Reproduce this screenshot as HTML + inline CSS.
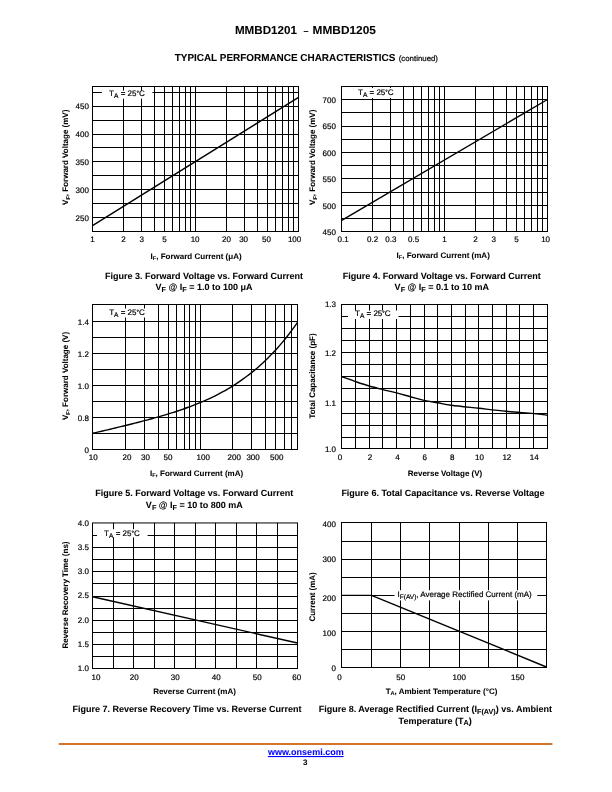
<!DOCTYPE html>
<html lang="en"><head><meta charset="utf-8"><title>MMBD1201 - MMBD1205</title>
<style>html,body{margin:0;padding:0;background:#fff;}body{width:612px;height:792px;overflow:hidden;}svg{display:block;will-change:transform;}a{text-decoration:none;}text{stroke:#000;stroke-width:0.2px;}text[font-weight=bold]{stroke-width:0.06px;}</style>
</head><body>
<svg width="612" height="792" viewBox="0 0 612 792" font-family='"Liberation Sans", Arial, Helvetica, sans-serif' text-rendering="geometricPrecision">
<rect width="612" height="792" fill="#fff"/>
<text x="234.9" y="33.8" font-size="11.6" text-anchor="start" font-weight="bold" fill="#000" textLength="62" lengthAdjust="spacingAndGlyphs">MMBD1201</text>
<text x="306.05" y="33.8" font-size="9" text-anchor="middle" font-weight="bold" fill="#000">&#8211;</text>
<text x="312.6" y="33.8" font-size="11.6" text-anchor="start" font-weight="bold" fill="#000" textLength="63.3" lengthAdjust="spacingAndGlyphs">MMBD1205</text>
<text x="174.7" y="61" font-size="10.1" font-weight="bold" textLength="220.6" lengthAdjust="spacingAndGlyphs">TYPICAL PERFORMANCE CHARACTERISTICS</text>
<text x="398.7" y="61" font-size="7.7" textLength="39.3" lengthAdjust="spacingAndGlyphs">(continued)</text>
<g>
<line x1="123.5" y1="86.5" x2="123.5" y2="231.5" stroke="#000" stroke-width="1.0"/>
<line x1="141.5" y1="86.5" x2="141.5" y2="231.5" stroke="#000" stroke-width="1.0"/>
<line x1="154.5" y1="86.5" x2="154.5" y2="231.5" stroke="#000" stroke-width="1.0"/>
<line x1="164.5" y1="86.5" x2="164.5" y2="231.5" stroke="#000" stroke-width="1.0"/>
<line x1="172.5" y1="86.5" x2="172.5" y2="231.5" stroke="#000" stroke-width="1.0"/>
<line x1="179.5" y1="86.5" x2="179.5" y2="231.5" stroke="#000" stroke-width="1.0"/>
<line x1="185.5" y1="86.5" x2="185.5" y2="231.5" stroke="#000" stroke-width="1.0"/>
<line x1="190.5" y1="86.5" x2="190.5" y2="231.5" stroke="#000" stroke-width="1.0"/>
<line x1="195.5" y1="86.5" x2="195.5" y2="231.5" stroke="#000" stroke-width="1.0"/>
<line x1="226.5" y1="86.5" x2="226.5" y2="231.5" stroke="#000" stroke-width="1.0"/>
<line x1="244.5" y1="86.5" x2="244.5" y2="231.5" stroke="#000" stroke-width="1.0"/>
<line x1="257.5" y1="86.5" x2="257.5" y2="231.5" stroke="#000" stroke-width="1.0"/>
<line x1="267.5" y1="86.5" x2="267.5" y2="231.5" stroke="#000" stroke-width="1.0"/>
<line x1="275.5" y1="86.5" x2="275.5" y2="231.5" stroke="#000" stroke-width="1.0"/>
<line x1="282.5" y1="86.5" x2="282.5" y2="231.5" stroke="#000" stroke-width="1.0"/>
<line x1="288.5" y1="86.5" x2="288.5" y2="231.5" stroke="#000" stroke-width="1.0"/>
<line x1="293.5" y1="86.5" x2="293.5" y2="231.5" stroke="#000" stroke-width="1.0"/>
<line x1="92.5" y1="92.5" x2="298.5" y2="92.5" stroke="#000" stroke-width="1.0"/>
<line x1="92.5" y1="106.5" x2="298.5" y2="106.5" stroke="#000" stroke-width="1.0"/>
<line x1="92.5" y1="120.5" x2="298.5" y2="120.5" stroke="#000" stroke-width="1.0"/>
<line x1="92.5" y1="134.5" x2="298.5" y2="134.5" stroke="#000" stroke-width="1.0"/>
<line x1="92.5" y1="147.5" x2="298.5" y2="147.5" stroke="#000" stroke-width="1.0"/>
<line x1="92.5" y1="161.5" x2="298.5" y2="161.5" stroke="#000" stroke-width="1.0"/>
<line x1="92.5" y1="175.5" x2="298.5" y2="175.5" stroke="#000" stroke-width="1.0"/>
<line x1="92.5" y1="189.5" x2="298.5" y2="189.5" stroke="#000" stroke-width="1.0"/>
<line x1="92.5" y1="203.5" x2="298.5" y2="203.5" stroke="#000" stroke-width="1.0"/>
<line x1="92.5" y1="217.5" x2="298.5" y2="217.5" stroke="#000" stroke-width="1.0"/>
<rect x="101.9" y="90.6" width="50.5" height="8.1" fill="#fff"/>
<rect x="92.5" y="86.5" width="206" height="145" fill="none" stroke="#000" stroke-width="1.0"/>
<path d="M92.5,225.6 L298.5,97.4" fill="none" stroke="#000" stroke-width="1.4" stroke-linejoin="round"/>
<text x="92.5" y="241.9" font-size="8.0" text-anchor="middle" fill="#000">1</text>
<text x="123.51" y="241.9" font-size="8.0" text-anchor="middle" fill="#000">2</text>
<text x="141.64" y="241.9" font-size="8.0" text-anchor="middle" fill="#000">3</text>
<text x="164.49" y="241.9" font-size="8.0" text-anchor="middle" fill="#000">5</text>
<text x="195.1" y="241.9" font-size="8.0" text-anchor="middle" fill="#000">10</text>
<text x="226.51" y="241.9" font-size="8.0" text-anchor="middle" fill="#000">20</text>
<text x="243.64" y="241.9" font-size="8.0" text-anchor="middle" fill="#000">30</text>
<text x="266.49" y="241.9" font-size="8.0" text-anchor="middle" fill="#000">50</text>
<text x="294.6" y="241.9" font-size="8.0" text-anchor="middle" fill="#000">100</text>
<text x="88.9" y="220.9" font-size="8.0" text-anchor="end" fill="#000">250</text>
<text x="88.9" y="192.9" font-size="8.0" text-anchor="end" fill="#000">300</text>
<text x="88.9" y="164.9" font-size="8.0" text-anchor="end" fill="#000">350</text>
<text x="88.9" y="136.9" font-size="8.0" text-anchor="end" fill="#000">400</text>
<text x="88.9" y="108.9" font-size="8.0" text-anchor="end" fill="#000">450</text>
<text x="196.1" y="258.8" font-size="8.0" text-anchor="middle" font-weight="bold" fill="#000">I<tspan dy="1.4" font-size="5.6">F</tspan><tspan dy="-1.4">, Forward Current (&#956;A)</tspan></text>
<text transform="translate(68.4,157.3) rotate(-90)" font-size="8.0" text-anchor="middle" font-weight="bold">V<tspan dy="1.4" font-size="5.6">F</tspan><tspan dy="-1.4">, Forward Voltage (mV)</tspan></text>
<text x="126.9" y="95.8" font-size="8.0" text-anchor="middle" fill="#000">T<tspan dy="2.0" font-size="6.6">A</tspan><tspan dy="-2.0"> = 25</tspan><tspan font-size="6.2" dy="-0.9">&#176;</tspan><tspan dy="0.9">C</tspan></text>
</g>
<g>
<line x1="372.5" y1="86.5" x2="372.5" y2="231.5" stroke="#000" stroke-width="1.0"/>
<line x1="390.5" y1="86.5" x2="390.5" y2="231.5" stroke="#000" stroke-width="1.0"/>
<line x1="403.5" y1="86.5" x2="403.5" y2="231.5" stroke="#000" stroke-width="1.0"/>
<line x1="413.5" y1="86.5" x2="413.5" y2="231.5" stroke="#000" stroke-width="1.0"/>
<line x1="421.5" y1="86.5" x2="421.5" y2="231.5" stroke="#000" stroke-width="1.0"/>
<line x1="428.5" y1="86.5" x2="428.5" y2="231.5" stroke="#000" stroke-width="1.0"/>
<line x1="434.5" y1="86.5" x2="434.5" y2="231.5" stroke="#000" stroke-width="1.0"/>
<line x1="439.5" y1="86.5" x2="439.5" y2="231.5" stroke="#000" stroke-width="1.0"/>
<line x1="444.5" y1="86.5" x2="444.5" y2="231.5" stroke="#000" stroke-width="1.0"/>
<line x1="475.5" y1="86.5" x2="475.5" y2="231.5" stroke="#000" stroke-width="1.0"/>
<line x1="493.5" y1="86.5" x2="493.5" y2="231.5" stroke="#000" stroke-width="1.0"/>
<line x1="506.5" y1="86.5" x2="506.5" y2="231.5" stroke="#000" stroke-width="1.0"/>
<line x1="516.5" y1="86.5" x2="516.5" y2="231.5" stroke="#000" stroke-width="1.0"/>
<line x1="524.5" y1="86.5" x2="524.5" y2="231.5" stroke="#000" stroke-width="1.0"/>
<line x1="531.5" y1="86.5" x2="531.5" y2="231.5" stroke="#000" stroke-width="1.0"/>
<line x1="537.5" y1="86.5" x2="537.5" y2="231.5" stroke="#000" stroke-width="1.0"/>
<line x1="542.5" y1="86.5" x2="542.5" y2="231.5" stroke="#000" stroke-width="1.0"/>
<line x1="341.5" y1="99.5" x2="547.5" y2="99.5" stroke="#000" stroke-width="1.0"/>
<line x1="341.5" y1="112.5" x2="547.5" y2="112.5" stroke="#000" stroke-width="1.0"/>
<line x1="341.5" y1="126.5" x2="547.5" y2="126.5" stroke="#000" stroke-width="1.0"/>
<line x1="341.5" y1="139.5" x2="547.5" y2="139.5" stroke="#000" stroke-width="1.0"/>
<line x1="341.5" y1="152.5" x2="547.5" y2="152.5" stroke="#000" stroke-width="1.0"/>
<line x1="341.5" y1="165.5" x2="547.5" y2="165.5" stroke="#000" stroke-width="1.0"/>
<line x1="341.5" y1="178.5" x2="547.5" y2="178.5" stroke="#000" stroke-width="1.0"/>
<line x1="341.5" y1="192.5" x2="547.5" y2="192.5" stroke="#000" stroke-width="1.0"/>
<line x1="341.5" y1="205.5" x2="547.5" y2="205.5" stroke="#000" stroke-width="1.0"/>
<line x1="341.5" y1="218.5" x2="547.5" y2="218.5" stroke="#000" stroke-width="1.0"/>
<rect x="351" y="87.9" width="49.5" height="10.1" fill="#fff"/>
<rect x="341.5" y="86.5" width="206" height="145" fill="none" stroke="#000" stroke-width="1.0"/>
<path d="M341.7,220.3 L547.5,99.5" fill="none" stroke="#000" stroke-width="1.4" stroke-linejoin="round"/>
<text x="343.1" y="241.6" font-size="8.0" text-anchor="middle" fill="#000">0.1</text>
<text x="372.68" y="241.6" font-size="8.0" text-anchor="middle" fill="#000">0.2</text>
<text x="390.8" y="241.6" font-size="8.0" text-anchor="middle" fill="#000">0.3</text>
<text x="413.62" y="241.6" font-size="8.0" text-anchor="middle" fill="#000">0.5</text>
<text x="444.6" y="241.6" font-size="8.0" text-anchor="middle" fill="#000">1</text>
<text x="475.58" y="241.6" font-size="8.0" text-anchor="middle" fill="#000">2</text>
<text x="493.7" y="241.6" font-size="8.0" text-anchor="middle" fill="#000">3</text>
<text x="516.52" y="241.6" font-size="8.0" text-anchor="middle" fill="#000">5</text>
<text x="545.6" y="241.6" font-size="8.0" text-anchor="middle" fill="#000">10</text>
<text x="335.9" y="235" font-size="8.0" text-anchor="end" fill="#000">450</text>
<text x="335.9" y="208.59" font-size="8.0" text-anchor="end" fill="#000">500</text>
<text x="335.9" y="182.18" font-size="8.0" text-anchor="end" fill="#000">550</text>
<text x="335.9" y="155.77" font-size="8.0" text-anchor="end" fill="#000">600</text>
<text x="335.9" y="129.36" font-size="8.0" text-anchor="end" fill="#000">650</text>
<text x="335.9" y="102.95" font-size="8.0" text-anchor="end" fill="#000">700</text>
<text x="443.2" y="257.6" font-size="8.0" text-anchor="middle" font-weight="bold" fill="#000">I<tspan dy="1.4" font-size="5.6">F</tspan><tspan dy="-1.4">, Forward Current (mA)</tspan></text>
<text transform="translate(315.2,157.3) rotate(-90)" font-size="8.0" text-anchor="middle" font-weight="bold">V<tspan dy="1.4" font-size="5.6">F</tspan><tspan dy="-1.4">, Forward Voltage (mV)</tspan></text>
<text x="375.8" y="94.7" font-size="8.0" text-anchor="middle" fill="#000">T<tspan dy="2.0" font-size="6.6">A</tspan><tspan dy="-2.0"> = 25</tspan><tspan font-size="6.2" dy="-0.9">&#176;</tspan><tspan dy="0.9">C</tspan></text>
</g>
<g>
<line x1="125.5" y1="304.5" x2="125.5" y2="449.5" stroke="#000" stroke-width="1.0"/>
<line x1="144.5" y1="304.5" x2="144.5" y2="449.5" stroke="#000" stroke-width="1.0"/>
<line x1="158.5" y1="304.5" x2="158.5" y2="449.5" stroke="#000" stroke-width="1.0"/>
<line x1="168.5" y1="304.5" x2="168.5" y2="449.5" stroke="#000" stroke-width="1.0"/>
<line x1="176.5" y1="304.5" x2="176.5" y2="449.5" stroke="#000" stroke-width="1.0"/>
<line x1="184.5" y1="304.5" x2="184.5" y2="449.5" stroke="#000" stroke-width="1.0"/>
<line x1="189.5" y1="304.5" x2="189.5" y2="449.5" stroke="#000" stroke-width="1.0"/>
<line x1="195.5" y1="304.5" x2="195.5" y2="449.5" stroke="#000" stroke-width="1.0"/>
<line x1="200.5" y1="304.5" x2="200.5" y2="449.5" stroke="#000" stroke-width="1.0"/>
<line x1="232.5" y1="304.5" x2="232.5" y2="449.5" stroke="#000" stroke-width="1.0"/>
<line x1="251.5" y1="304.5" x2="251.5" y2="449.5" stroke="#000" stroke-width="1.0"/>
<line x1="265.5" y1="304.5" x2="265.5" y2="449.5" stroke="#000" stroke-width="1.0"/>
<line x1="275.5" y1="304.5" x2="275.5" y2="449.5" stroke="#000" stroke-width="1.0"/>
<line x1="284.5" y1="304.5" x2="284.5" y2="449.5" stroke="#000" stroke-width="1.0"/>
<line x1="291.5" y1="304.5" x2="291.5" y2="449.5" stroke="#000" stroke-width="1.0"/>
<line x1="92.5" y1="433.5" x2="297.5" y2="433.5" stroke="#000" stroke-width="1.0"/>
<line x1="92.5" y1="417.5" x2="297.5" y2="417.5" stroke="#000" stroke-width="1.0"/>
<line x1="92.5" y1="401.5" x2="297.5" y2="401.5" stroke="#000" stroke-width="1.0"/>
<line x1="92.5" y1="385.5" x2="297.5" y2="385.5" stroke="#000" stroke-width="1.0"/>
<line x1="92.5" y1="369.5" x2="297.5" y2="369.5" stroke="#000" stroke-width="1.0"/>
<line x1="92.5" y1="353.5" x2="297.5" y2="353.5" stroke="#000" stroke-width="1.0"/>
<line x1="92.5" y1="337.5" x2="297.5" y2="337.5" stroke="#000" stroke-width="1.0"/>
<line x1="92.5" y1="321.5" x2="297.5" y2="321.5" stroke="#000" stroke-width="1.0"/>
<rect x="102" y="308.5" width="50" height="9" fill="#fff"/>
<rect x="92.5" y="304.5" width="205" height="145" fill="none" stroke="#000" stroke-width="1.0"/>
<path d="M92.6,433.3 C93.43,433.11 95.93,432.54 97.6,432.16 C99.26,431.77 100.93,431.39 102.6,431 C104.26,430.61 105.93,430.22 107.59,429.83 C109.26,429.43 110.92,429.04 112.59,428.64 C114.26,428.24 115.92,427.84 117.59,427.44 C119.25,427.04 120.92,426.63 122.59,426.23 C124.25,425.82 125.92,425.41 127.58,424.99 C129.25,424.58 130.91,424.17 132.58,423.74 C134.25,423.32 135.91,422.9 137.58,422.47 C139.24,422.05 140.91,421.61 142.58,421.18 C144.24,420.74 145.91,420.3 147.57,419.85 C149.24,419.4 150.9,418.95 152.57,418.49 C154.24,418.03 155.9,417.57 157.57,417.09 C159.23,416.62 160.9,416.14 162.57,415.65 C164.23,415.16 165.9,414.66 167.56,414.16 C169.23,413.65 170.9,413.13 172.56,412.6 C174.23,412.08 175.89,411.54 177.56,410.99 C179.22,410.43 180.89,409.87 182.56,409.29 C184.22,408.72 185.89,408.13 187.55,407.52 C189.22,406.91 190.89,406.29 192.55,405.65 C194.22,405.01 195.88,404.36 197.55,403.68 C199.21,403.01 200.88,402.32 202.55,401.6 C204.21,400.89 205.88,400.15 207.54,399.4 C209.21,398.64 210.88,397.86 212.54,397.06 C214.21,396.25 215.87,395.43 217.54,394.57 C219.2,393.71 220.87,392.83 222.54,391.92 C224.2,391.01 225.87,390.07 227.53,389.1 C229.2,388.13 230.87,387.13 232.53,386.09 C234.2,385.05 235.86,383.98 237.53,382.88 C239.2,381.77 240.86,380.63 242.53,379.44 C244.19,378.26 245.86,377.04 247.52,375.78 C249.19,374.52 250.86,373.21 252.52,371.86 C254.19,370.51 255.85,369.12 257.52,367.68 C259.19,366.24 260.85,364.75 262.52,363.22 C264.18,361.68 265.85,360.09 267.51,358.45 C269.18,356.8 270.85,355.11 272.51,353.35 C274.18,351.6 275.84,349.79 277.51,347.92 C279.18,346.05 280.84,344.12 282.51,342.13 C284.17,340.13 285.84,338.08 287.5,335.95 C289.17,333.83 290.84,331.64 292.5,329.37 C294.17,327.11 296.67,323.54 297.5,322.37" fill="none" stroke="#000" stroke-width="1.4" stroke-linejoin="round"/>
<text x="93.3" y="460.4" font-size="8.0" text-anchor="middle" fill="#000">10</text>
<text x="127" y="460.4" font-size="8.0" text-anchor="middle" fill="#000">20</text>
<text x="145.4" y="460.4" font-size="8.0" text-anchor="middle" fill="#000">30</text>
<text x="167.9" y="460.4" font-size="8.0" text-anchor="middle" fill="#000">50</text>
<text x="203.2" y="460.4" font-size="8.0" text-anchor="middle" fill="#000">100</text>
<text x="234.3" y="460.4" font-size="8.0" text-anchor="middle" fill="#000">200</text>
<text x="253.1" y="460.4" font-size="8.0" text-anchor="middle" fill="#000">300</text>
<text x="276.7" y="460.4" font-size="8.0" text-anchor="middle" fill="#000">500</text>
<text x="88.9" y="452.6" font-size="8.0" text-anchor="end" fill="#000">0</text>
<text x="88.9" y="420.7" font-size="8.0" text-anchor="end" fill="#000">0.8</text>
<text x="88.9" y="388.7" font-size="8.0" text-anchor="end" fill="#000">1.0</text>
<text x="88.9" y="356.7" font-size="8.0" text-anchor="end" fill="#000">1.2</text>
<text x="88.9" y="324.7" font-size="8.0" text-anchor="end" fill="#000">1.4</text>
<text x="196.5" y="476" font-size="8.0" text-anchor="middle" font-weight="bold" fill="#000">I<tspan dy="1.4" font-size="5.6">F</tspan><tspan dy="-1.4">, Forward Current (mA)</tspan></text>
<text transform="translate(68.4,376) rotate(-90)" font-size="8.0" text-anchor="middle" font-weight="bold">V<tspan dy="1.4" font-size="5.6">F</tspan><tspan dy="-1.4">, Forward Voltage (V)</tspan></text>
<text x="127" y="315" font-size="8.0" text-anchor="middle" fill="#000">T<tspan dy="2.0" font-size="6.6">A</tspan><tspan dy="-2.0"> = 25</tspan><tspan font-size="6.2" dy="-0.9">&#176;</tspan><tspan dy="0.9">C</tspan></text>
</g>
<g>
<line x1="355.5" y1="304.5" x2="355.5" y2="448.5" stroke="#000" stroke-width="1.0"/>
<line x1="369.5" y1="304.5" x2="369.5" y2="448.5" stroke="#000" stroke-width="1.0"/>
<line x1="382.5" y1="304.5" x2="382.5" y2="448.5" stroke="#000" stroke-width="1.0"/>
<line x1="396.5" y1="304.5" x2="396.5" y2="448.5" stroke="#000" stroke-width="1.0"/>
<line x1="410.5" y1="304.5" x2="410.5" y2="448.5" stroke="#000" stroke-width="1.0"/>
<line x1="424.5" y1="304.5" x2="424.5" y2="448.5" stroke="#000" stroke-width="1.0"/>
<line x1="437.5" y1="304.5" x2="437.5" y2="448.5" stroke="#000" stroke-width="1.0"/>
<line x1="451.5" y1="304.5" x2="451.5" y2="448.5" stroke="#000" stroke-width="1.0"/>
<line x1="465.5" y1="304.5" x2="465.5" y2="448.5" stroke="#000" stroke-width="1.0"/>
<line x1="478.5" y1="304.5" x2="478.5" y2="448.5" stroke="#000" stroke-width="1.0"/>
<line x1="492.5" y1="304.5" x2="492.5" y2="448.5" stroke="#000" stroke-width="1.0"/>
<line x1="506.5" y1="304.5" x2="506.5" y2="448.5" stroke="#000" stroke-width="1.0"/>
<line x1="519.5" y1="304.5" x2="519.5" y2="448.5" stroke="#000" stroke-width="1.0"/>
<line x1="533.5" y1="304.5" x2="533.5" y2="448.5" stroke="#000" stroke-width="1.0"/>
<line x1="341.5" y1="316.5" x2="547.5" y2="316.5" stroke="#000" stroke-width="1.0"/>
<line x1="341.5" y1="328.5" x2="547.5" y2="328.5" stroke="#000" stroke-width="1.0"/>
<line x1="341.5" y1="340.5" x2="547.5" y2="340.5" stroke="#000" stroke-width="1.0"/>
<line x1="341.5" y1="352.5" x2="547.5" y2="352.5" stroke="#000" stroke-width="1.0"/>
<line x1="341.5" y1="364.5" x2="547.5" y2="364.5" stroke="#000" stroke-width="1.0"/>
<line x1="341.5" y1="376.5" x2="547.5" y2="376.5" stroke="#000" stroke-width="1.0"/>
<line x1="341.5" y1="388.5" x2="547.5" y2="388.5" stroke="#000" stroke-width="1.0"/>
<line x1="341.5" y1="401.5" x2="547.5" y2="401.5" stroke="#000" stroke-width="1.0"/>
<line x1="341.5" y1="413.5" x2="547.5" y2="413.5" stroke="#000" stroke-width="1.0"/>
<line x1="341.5" y1="425.5" x2="547.5" y2="425.5" stroke="#000" stroke-width="1.0"/>
<line x1="341.5" y1="437.5" x2="547.5" y2="437.5" stroke="#000" stroke-width="1.0"/>
<rect x="348" y="310.5" width="50.5" height="8.5" fill="#fff"/>
<rect x="341.5" y="304.5" width="206" height="144" fill="none" stroke="#000" stroke-width="1.0"/>
<path d="M341.91,376.8 C344.19,377.6 351.04,380.07 355.6,381.6 C360.16,383.13 364.73,384.67 369.29,386 C373.85,387.33 378.42,388.45 382.98,389.6 C387.54,390.75 392.11,391.72 396.67,392.9 C401.23,394.08 405.8,395.45 410.36,396.7 C414.92,397.95 419.49,399.38 424.05,400.4 C428.61,401.42 433.18,402 437.74,402.8 C442.3,403.6 444.59,404.28 451.43,405.2 C458.27,406.12 469.68,407.28 478.81,408.3 C487.94,409.32 497.06,410.42 506.19,411.3 C515.32,412.18 526.73,412.95 533.57,413.6 C540.42,414.25 544.98,414.93 547.26,415.2" fill="none" stroke="#000" stroke-width="1.4" stroke-linejoin="round"/>
<text x="340" y="459.9" font-size="8.0" text-anchor="middle" fill="#000">0</text>
<text x="369.99" y="459.9" font-size="8.0" text-anchor="middle" fill="#000">2</text>
<text x="397.37" y="459.9" font-size="8.0" text-anchor="middle" fill="#000">4</text>
<text x="424.75" y="459.9" font-size="8.0" text-anchor="middle" fill="#000">6</text>
<text x="452.13" y="459.9" font-size="8.0" text-anchor="middle" fill="#000">8</text>
<text x="479.51" y="459.9" font-size="8.0" text-anchor="middle" fill="#000">10</text>
<text x="506.89" y="459.9" font-size="8.0" text-anchor="middle" fill="#000">12</text>
<text x="534.27" y="459.9" font-size="8.0" text-anchor="middle" fill="#000">14</text>
<text x="336" y="451.9" font-size="8.0" text-anchor="end" fill="#000">1.0</text>
<text x="336" y="406.3" font-size="8.0" text-anchor="end" fill="#000">1.1</text>
<text x="336" y="355.9" font-size="8.0" text-anchor="end" fill="#000">1.2</text>
<text x="336" y="306.7" font-size="8.0" text-anchor="end" fill="#000">1.3</text>
<text x="445" y="476" font-size="8.0" text-anchor="middle" font-weight="bold" fill="#000">Reverse Voltage (V)</text>
<text transform="translate(315.2,376) rotate(-90)" font-size="8.0" text-anchor="middle" font-weight="bold">Total Capacitance (pF)</text>
<text x="372.8" y="315.7" font-size="8.0" text-anchor="middle" fill="#000">T<tspan dy="2.0" font-size="6.6">A</tspan><tspan dy="-2.0"> = 25</tspan><tspan font-size="6.2" dy="-0.9">&#176;</tspan><tspan dy="0.9">C</tspan></text>
</g>
<g>
<line x1="113.5" y1="522.95" x2="113.5" y2="668.5" stroke="#000" stroke-width="1.0"/>
<line x1="133.5" y1="522.95" x2="133.5" y2="668.5" stroke="#000" stroke-width="1.0"/>
<line x1="154.5" y1="522.95" x2="154.5" y2="668.5" stroke="#000" stroke-width="1.0"/>
<line x1="174.5" y1="522.95" x2="174.5" y2="668.5" stroke="#000" stroke-width="1.0"/>
<line x1="195.5" y1="522.95" x2="195.5" y2="668.5" stroke="#000" stroke-width="1.0"/>
<line x1="215.5" y1="522.95" x2="215.5" y2="668.5" stroke="#000" stroke-width="1.0"/>
<line x1="236.5" y1="522.95" x2="236.5" y2="668.5" stroke="#000" stroke-width="1.0"/>
<line x1="256.5" y1="522.95" x2="256.5" y2="668.5" stroke="#000" stroke-width="1.0"/>
<line x1="277.5" y1="522.95" x2="277.5" y2="668.5" stroke="#000" stroke-width="1.0"/>
<line x1="92.5" y1="535.5" x2="297.5" y2="535.5" stroke="#000" stroke-width="1.0"/>
<line x1="92.5" y1="547.5" x2="297.5" y2="547.5" stroke="#000" stroke-width="1.0"/>
<line x1="92.5" y1="559.5" x2="297.5" y2="559.5" stroke="#000" stroke-width="1.0"/>
<line x1="92.5" y1="571.5" x2="297.5" y2="571.5" stroke="#000" stroke-width="1.0"/>
<line x1="92.5" y1="583.5" x2="297.5" y2="583.5" stroke="#000" stroke-width="1.0"/>
<line x1="92.5" y1="596.5" x2="297.5" y2="596.5" stroke="#000" stroke-width="1.0"/>
<line x1="92.5" y1="608.5" x2="297.5" y2="608.5" stroke="#000" stroke-width="1.0"/>
<line x1="92.5" y1="620.5" x2="297.5" y2="620.5" stroke="#000" stroke-width="1.0"/>
<line x1="92.5" y1="632.5" x2="297.5" y2="632.5" stroke="#000" stroke-width="1.0"/>
<line x1="92.5" y1="644.5" x2="297.5" y2="644.5" stroke="#000" stroke-width="1.0"/>
<line x1="92.5" y1="656.5" x2="297.5" y2="656.5" stroke="#000" stroke-width="1.0"/>
<rect x="97" y="529.2" width="50.6" height="8.2" fill="#fff"/>
<rect x="92.5" y="522.95" width="205" height="145.55" fill="none" stroke="#000" stroke-width="1.0"/>
<path d="M92.6,596.7 L297.5,643" fill="none" stroke="#000" stroke-width="1.4" stroke-linejoin="round"/>
<text x="95.9" y="679.7" font-size="8.0" text-anchor="middle" fill="#000">10</text>
<text x="134.3" y="679.7" font-size="8.0" text-anchor="middle" fill="#000">20</text>
<text x="175.3" y="679.7" font-size="8.0" text-anchor="middle" fill="#000">30</text>
<text x="216.3" y="679.7" font-size="8.0" text-anchor="middle" fill="#000">40</text>
<text x="257.3" y="679.7" font-size="8.0" text-anchor="middle" fill="#000">50</text>
<text x="296.7" y="679.7" font-size="8.0" text-anchor="middle" fill="#000">60</text>
<text x="88.9" y="671" font-size="8.0" text-anchor="end" fill="#000">1.0</text>
<text x="88.9" y="646.77" font-size="8.0" text-anchor="end" fill="#000">1.5</text>
<text x="88.9" y="622.54" font-size="8.0" text-anchor="end" fill="#000">2.0</text>
<text x="88.9" y="598.31" font-size="8.0" text-anchor="end" fill="#000">2.5</text>
<text x="88.9" y="574.08" font-size="8.0" text-anchor="end" fill="#000">3.0</text>
<text x="88.9" y="549.85" font-size="8.0" text-anchor="end" fill="#000">3.5</text>
<text x="88.9" y="525.62" font-size="8.0" text-anchor="end" fill="#000">4.0</text>
<text x="194.5" y="693.8" font-size="8.0" text-anchor="middle" font-weight="bold" fill="#000">Reverse Current (mA)</text>
<text transform="translate(68.4,595) rotate(-90)" font-size="8.0" text-anchor="middle" font-weight="bold">Reverse Recovery Time (ns)</text>
<text x="121.9" y="535.8" font-size="8.0" text-anchor="middle" fill="#000">T<tspan dy="2.0" font-size="6.6">A</tspan><tspan dy="-2.0"> = 25</tspan><tspan font-size="6.2" dy="-0.9">&#176;</tspan><tspan dy="0.9">C</tspan></text>
</g>
<g>
<line x1="371.5" y1="522.5" x2="371.5" y2="667.5" stroke="#000" stroke-width="1.0"/>
<line x1="400.5" y1="522.5" x2="400.5" y2="667.5" stroke="#000" stroke-width="1.0"/>
<line x1="429.5" y1="522.5" x2="429.5" y2="667.5" stroke="#000" stroke-width="1.0"/>
<line x1="459.5" y1="522.5" x2="459.5" y2="667.5" stroke="#000" stroke-width="1.0"/>
<line x1="488.5" y1="522.5" x2="488.5" y2="667.5" stroke="#000" stroke-width="1.0"/>
<line x1="517.5" y1="522.5" x2="517.5" y2="667.5" stroke="#000" stroke-width="1.0"/>
<line x1="341.5" y1="649.5" x2="546.5" y2="649.5" stroke="#000" stroke-width="1.0"/>
<line x1="341.5" y1="631.5" x2="546.5" y2="631.5" stroke="#000" stroke-width="1.0"/>
<line x1="341.5" y1="613.5" x2="546.5" y2="613.5" stroke="#000" stroke-width="1.0"/>
<line x1="341.5" y1="595.5" x2="546.5" y2="595.5" stroke="#000" stroke-width="1.0"/>
<line x1="341.5" y1="577.5" x2="546.5" y2="577.5" stroke="#000" stroke-width="1.0"/>
<line x1="341.5" y1="559.5" x2="546.5" y2="559.5" stroke="#000" stroke-width="1.0"/>
<line x1="341.5" y1="541.5" x2="546.5" y2="541.5" stroke="#000" stroke-width="1.0"/>
<rect x="394.5" y="590.2" width="142.8" height="10.2" fill="#fff"/>
<rect x="341.5" y="522.5" width="205" height="145" fill="none" stroke="#000" stroke-width="1.0"/>
<path d="M341.6,595.41 L371.5,595.41 L546.4,667" fill="none" stroke="#000" stroke-width="1.4" stroke-linejoin="round"/>
<text x="339.6" y="679.6" font-size="8.0" text-anchor="middle" fill="#000">0</text>
<text x="400.75" y="679.6" font-size="8.0" text-anchor="middle" fill="#000">50</text>
<text x="459.25" y="679.6" font-size="8.0" text-anchor="middle" fill="#000">100</text>
<text x="517.75" y="679.6" font-size="8.0" text-anchor="middle" fill="#000">150</text>
<text x="335.9" y="670.8" font-size="8.0" text-anchor="end" fill="#000">0</text>
<text x="335.9" y="636" font-size="8.0" text-anchor="end" fill="#000">100</text>
<text x="335.9" y="601.4" font-size="8.0" text-anchor="end" fill="#000">200</text>
<text x="335.9" y="562.1" font-size="8.0" text-anchor="end" fill="#000">300</text>
<text x="335.9" y="526.8" font-size="8.0" text-anchor="end" fill="#000">400</text>
<text x="441.5" y="694" font-size="8.0" text-anchor="middle" font-weight="bold" fill="#000">T<tspan dy="1.4" font-size="5.6">A</tspan><tspan dy="-1.4">, Ambient Temperature (&#176;C)</tspan></text>
<text transform="translate(315.2,596.9) rotate(-90)" font-size="8.0" text-anchor="middle" font-weight="bold">Current (mA)</text>
<text x="397.6" y="597.2" font-size="8.0" text-anchor="start" fill="#000">I<tspan dy="1.6" font-size="6.5">F(AV)</tspan><tspan dy="-1.6">, Average Rectified Current (mA)</tspan></text>
</g>
<text x="204" y="279.4" font-size="9.0" text-anchor="middle" font-weight="bold" fill="#000">Figure 3. Forward Voltage vs. Forward Current</text>
<text x="204" y="290.3" font-size="9.0" text-anchor="middle" font-weight="bold" fill="#000">V<tspan dy="1.6" font-size="7.2">F</tspan><tspan dy="-1.6"> @ I</tspan><tspan dy="1.6" font-size="7.2">F</tspan><tspan dy="-1.6"> = 1.0 to 100 &#956;A</tspan></text>
<text x="441.8" y="279.4" font-size="9.0" text-anchor="middle" font-weight="bold" fill="#000">Figure 4. Forward Voltage vs. Forward Current</text>
<text x="441.8" y="290.3" font-size="9.0" text-anchor="middle" font-weight="bold" fill="#000">V<tspan dy="1.6" font-size="7.2">F</tspan><tspan dy="-1.6"> @ I</tspan><tspan dy="1.6" font-size="7.2">F</tspan><tspan dy="-1.6"> = 0.1 to 10 mA</tspan></text>
<text x="194.3" y="496.1" font-size="9.0" text-anchor="middle" font-weight="bold" fill="#000">Figure 5. Forward Voltage vs. Forward Current</text>
<text x="194.3" y="507.9" font-size="9.0" text-anchor="middle" font-weight="bold" fill="#000">V<tspan dy="1.6" font-size="7.2">F</tspan><tspan dy="-1.6"> @ I</tspan><tspan dy="1.6" font-size="7.2">F</tspan><tspan dy="-1.6"> = 10 to 800 mA</tspan></text>
<text x="443" y="496.1" font-size="9.0" text-anchor="middle" font-weight="bold" fill="#000">Figure 6. Total Capacitance vs. Reverse Voltage</text>
<text x="187" y="712.2" font-size="9.0" text-anchor="middle" font-weight="bold" fill="#000">Figure 7. Reverse Recovery Time vs. Reverse Current</text>
<text x="435.3" y="712.2" font-size="9.0" text-anchor="middle" font-weight="bold" fill="#000">Figure 8. Average Rectified Current (I<tspan dy="1.6" font-size="7.2">F(AV)</tspan><tspan dy="-1.6">) vs. Ambient</tspan></text>
<text x="435.1" y="723.7" font-size="9.0" text-anchor="middle" font-weight="bold" fill="#000">Temperature (T<tspan dy="1.6" font-size="7.2">A</tspan><tspan dy="-1.6">)</tspan></text>
<line x1="58.8" y1="744" x2="552.4" y2="744" stroke="#d5742c" stroke-width="2.0"/>
<a href="#"><text x="305.8" y="755" font-size="9" text-anchor="middle" font-weight="bold" fill="#0000ff" style="stroke:#0000ff">www.onsemi.com</text></a>
<rect x="267.9" y="756" width="75.7" height="1.1" fill="#0000ff"/>
<text x="305.2" y="765.2" font-size="8" text-anchor="middle" font-weight="bold" fill="#000">3</text>
</svg></body></html>
